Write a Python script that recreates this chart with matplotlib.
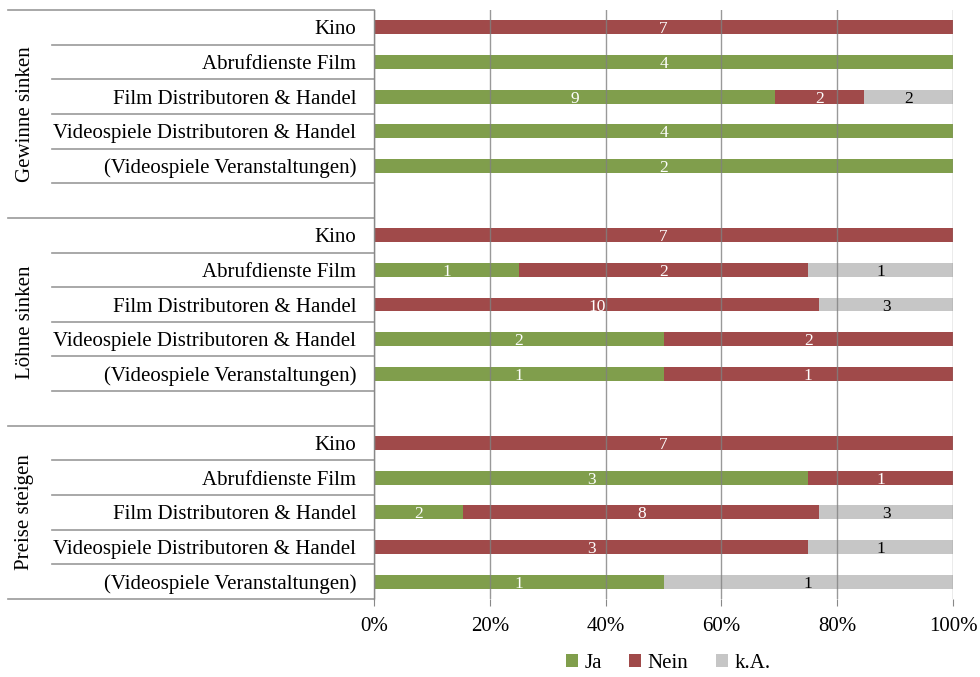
import matplotlib
matplotlib.use("Agg")
import matplotlib.pyplot as plt
import matplotlib.transforms as mtransforms
from matplotlib.patches import Patch
import numpy as np

plt.rcParams['font.family'] = ['Liberation Serif', 'DejaVu Serif']

groups = ["Gewinne sinken", "Löhne sinken", "Preise steigen"]
categories = ["Kino", "Abrufdienste Film", "Film Distributoren & Handel",
              "Videospiele Distributoren & Handel", "(Videospiele Veranstaltungen)"]
# counts per group, per category
ja = [[0, 4, 9, 4, 2],
      [0, 1, 0, 2, 1],
      [0, 3, 2, 0, 1]]
nein = [[7, 0, 2, 0, 0],
        [7, 2, 10, 2, 1],
        [7, 1, 8, 3, 0]]
ka = [[0, 0, 2, 0, 0],
      [0, 1, 3, 0, 0],
      [0, 0, 3, 1, 1]]
series_names = ["Ja", "Nein", "k.A."]
colors = ["#809E4C", "#A04A4A", "#C6C6C6"]
text_colors = ["white", "white", "black"]
xticks = [0, 20, 40, 60, 80, 100]

W, H = 980, 677
fig = plt.figure(figsize=(W / 100, H / 100), dpi=100)
x0, x1 = 374, 953
y_top, y_bot = 10, 599
ax = fig.add_axes([x0 / W, 1 - y_bot / H, (x1 - x0) / W, (y_bot - y_top) / H])

# Build rows: each group has 5 categories + empty row (except last)
rows = []  # (group index, cat index) or None
for g in range(len(groups)):
    for c in range(len(categories)):
        rows.append((g, c))
    if g < len(groups) - 1:
        rows.append(None)
n_rows = len(rows)

for i, r in enumerate(rows):
    if r is None:
        continue
    g, c = r
    vals = [ja[g][c], nein[g][c], ka[g][c]]
    total = sum(vals)
    left = 0.0
    for s, v in enumerate(vals):
        if v == 0:
            continue
        w = v / total * 100
        ax.barh(i, w, left=left, height=0.4, color=colors[s], zorder=2)
        ax.text(left + w / 2, i, str(v), ha='center', va='center_baseline',
                fontsize=12.5, color=text_colors[s], zorder=4)
        left += w

ax.set_ylim(n_rows - 0.5, -0.5)
ax.set_xlim(0, 100)
ax.set_xticks(xticks)
ax.set_xticklabels([f"{t}%" for t in xticks], fontsize=15)
ax.tick_params(axis='x', length=5, color='#888888', pad=8)
ax.set_yticks([])
ax.grid(axis='x', color='#808080', linewidth=1.0, alpha=0.8, zorder=3)
ax.set_axisbelow(False)
for sp in ['top', 'right', 'bottom']:
    ax.spines[sp].set_visible(False)
ax.spines['left'].set_color('#888888')
ax.spines['left'].set_linewidth(1.0)
ax.spines['left'].set_zorder(5)

trans = mtransforms.blended_transform_factory(fig.transFigure, ax.transData)
xl_cat = 52 / W
xl_grp = 8 / W
xr = x0 / W
line_kw = dict(color='#999999', linewidth=1.2, transform=trans, clip_on=False)

for i, r in enumerate(rows):
    if r is None:
        continue
    g, c = r
    ax.text(356 / W, i, categories[c], transform=trans, ha='right',
            va='center_baseline', fontsize=15)

# separator lines
idx = 0
for g in range(len(groups)):
    start = idx
    end = idx + len(categories) + (1 if g < len(groups) - 1 else 0)
    ax.plot([xl_grp, xr], [start - 0.5, start - 0.5], **line_kw)
    for k in range(start + 1, end):
        ax.plot([xl_cat, xr], [k - 0.5, k - 0.5], **line_kw)
    ax.text(25 / W, (start - 0.5 + end - 0.5) / 2,
            groups[g], transform=trans, rotation=90, ha='center', va='center',
            fontsize=15)
    idx = end
ax.plot([xl_grp, xr], [idx - 0.5, idx - 0.5], **line_kw)

handles = [Patch(facecolor=colors[s], edgecolor='none') for s in range(3)]
fig.legend(handles, series_names, loc='center', bbox_to_anchor=(668 / W, 1 - 663 / H),
           ncol=3, frameon=False, fontsize=15, handlelength=0.6, handleheight=0.6,
           handletextpad=0.3, columnspacing=1.3)

fig.savefig("out.png", dpi=100)
